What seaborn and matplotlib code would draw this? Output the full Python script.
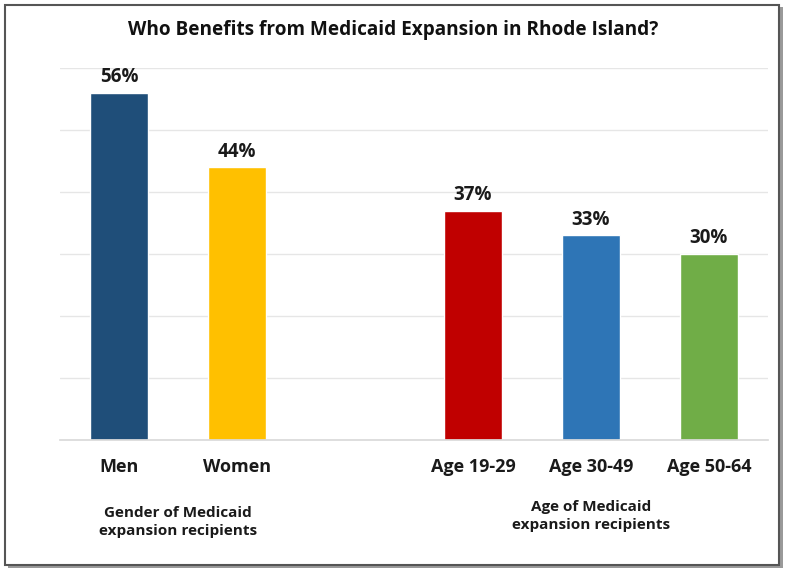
import matplotlib
matplotlib.use("Agg")
import matplotlib.pyplot as plt
import seaborn as sns
import pandas as pd
from matplotlib.patches import Rectangle

categories = ["Men", "Women", " ", "Age 19-29", "Age 30-49", "Age 50-64"]
values = [56, 44, None, 37, 33, 30]
colors = ["#1F4E79", "#FFC000", "#FFFFFF", "#C00000", "#2E75B6", "#70AD47"]
group_labels = ["Gender of Medicaid\nexpansion recipients", "Age of Medicaid\nexpansion recipients"]
title = "Who Benefits from Medicaid Expansion in Rhode Island?"

sns.set_theme(style="white")
plt.rcParams['font.family'] = ['Open Sans', 'DejaVu Sans']

df = pd.DataFrame({"cat": categories, "val": values})
df = df.dropna()

fig = plt.figure(figsize=(7.85, 5.70), dpi=100)
ax = fig.add_axes([60/785, 1 - 440/570, 708/785, (440 - 68)/570])

sns.barplot(data=df, x="cat", y="val", hue="cat", order=categories,
            palette={c: col for c, col in zip(categories, colors)},
            width=0.49, legend=False, ax=ax, saturation=1)

ax.set_xlim(-0.5, 5.5)
ax.set_ylim(0, 60)
ax.set_yticks(range(0, 61, 10))
ax.yaxis.grid(True, color="#E6E6E6", linewidth=1)
ax.set_axisbelow(True)
ax.tick_params(axis="y", left=False, labelleft=False)
ax.tick_params(axis="x", bottom=False, pad=7)
for s in ["left", "right", "top"]:
    ax.spines[s].set_visible(False)
ax.spines["bottom"].set_color("#DADADA")
ax.set_xlabel("")
ax.set_ylabel("")
ax.set_xticks(range(len(categories)))
ax.set_xticklabels(categories, fontsize=13, fontweight="bold", color="#1a1a1a")

for i, v in enumerate(values):
    if v is not None:
        ax.annotate(f"{v:.0f}%", (i, v), xytext=(0, 4), textcoords="offset points",
                    ha="center", va="bottom", fontsize=13.5, fontweight="bold", color="#1a1a1a")

fig.text(393/785, 1 - 30/570, title, ha="center", va="center",
         fontsize=13.7, fontweight="bold", color="#111111")
fig.text(178/785, 1 - 522/570, group_labels[0], ha="center", va="center",
         fontsize=11, fontweight="bold", color="#1a1a1a", linespacing=1.35)
fig.text(591/785, 1 - 516/570, group_labels[1], ha="center", va="center",
         fontsize=11, fontweight="bold", color="#1a1a1a", linespacing=1.35)

# frame with shadow
fig.patches.append(Rectangle((8/785, 1 - 568/570), 775/785, 561/570, transform=fig.transFigure,
                             facecolor="#9A9A9A", edgecolor="none", zorder=-2))
fig.patches.append(Rectangle((5/785, 1 - 565/570), 774/785, 560/570, transform=fig.transFigure,
                             facecolor="white", edgecolor="#555555", linewidth=1.5, zorder=-1))

fig.savefig("out.png", dpi=100)
